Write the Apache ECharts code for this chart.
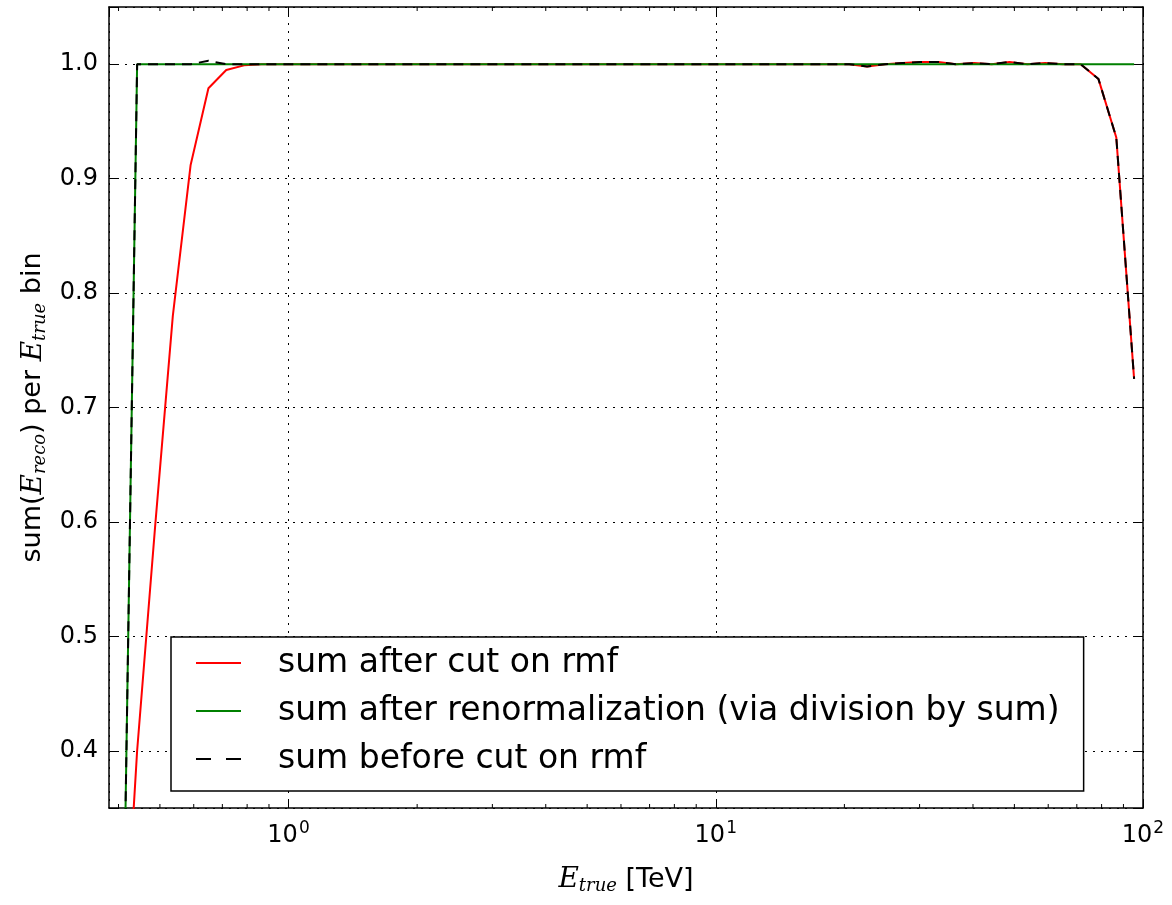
<!DOCTYPE html>
<html><head><meta charset="utf-8">
<script src="https://cdn.jsdelivr.net/npm/echarts@6/dist/echarts.min.js"></script>
<style>html,body{margin:0;padding:0;background:#fff}#c{width:1172px;height:905px}</style>
</head><body><div id="c"></div>
<script>
// Bin centres of E_true [TeV]
const energies = [0.3652, 0.4017, 0.4422, 0.4870, 0.5360, 0.5900, 0.6494, 0.7149, 0.7868, 0.8660,
  0.9532, 1.0492, 1.1548, 1.2710, 1.3990, 1.5399, 1.6950, 1.8656, 2.0535, 2.2603,
  2.4879, 2.7384, 3.0142, 3.3177, 3.6517, 4.0195, 4.4242, 4.8697, 5.3601, 5.8999,
  6.4938, 7.1477, 7.8674, 8.6596, 9.5316, 10.492, 11.548, 12.710, 13.990, 15.399,
  16.950, 18.656, 20.535, 22.603, 24.879, 27.384, 30.142, 33.177, 36.517, 40.195,
  44.242, 48.697, 53.601, 58.999, 64.938, 71.477, 78.674, 86.596, 95.316];
const sumAfterCut = [0, 0.14, 0.40, 0.595, 0.78, 0.912, 0.979, 0.995, 0.999, 1.0,
  1.0, 1.0, 1.0, 1.0, 1.0, 1.0, 1.0, 1.0, 1.0, 1.0,
  1.0, 1.0, 1.0, 1.0, 1.0, 1.0, 1.0, 1.0, 1.0, 1.0,
  1.0, 1.0, 1.0, 1.0, 1.0, 1.0, 1.0, 1.0, 1.0, 1.0,
  1.0, 1.0, 1.0, 0.998, 1.0, 1.001, 1.002, 1.002, 1.0, 1.001,
  1.0, 1.002, 1.0, 1.001, 1.0, 1.0, 0.987, 0.936, 0.725];
const sumRenorm = [0, 0, 1.0, 1.0, 1.0, 1.0, 1.0, 1.0, 1.0, 1.0,
  1.0, 1.0, 1.0, 1.0, 1.0, 1.0, 1.0, 1.0, 1.0, 1.0,
  1.0, 1.0, 1.0, 1.0, 1.0, 1.0, 1.0, 1.0, 1.0, 1.0,
  1.0, 1.0, 1.0, 1.0, 1.0, 1.0, 1.0, 1.0, 1.0, 1.0,
  1.0, 1.0, 1.0, 1.0, 1.0, 1.0, 1.0, 1.0, 1.0, 1.0,
  1.0, 1.0, 1.0, 1.0, 1.0, 1.0, 1.0, 1.0, 1.0];
const sumBeforeCut = [0, 0, 1.0, 1.0, 1.0, 1.0, 1.003, 1.0, 1.0, 1.0,
  1.0, 1.0, 1.0, 1.0, 1.0, 1.0, 1.0, 1.0, 1.0, 1.0,
  1.0, 1.0, 1.0, 1.0, 1.0, 1.0, 1.0, 1.0, 1.0, 1.0,
  1.0, 1.0, 1.0, 1.0, 1.0, 1.0, 1.0, 1.0, 1.0, 1.0,
  1.0, 1.0, 1.0, 0.998, 1.0, 1.001, 1.002, 1.002, 1.0, 1.001,
  1.0, 1.002, 1.0, 1.001, 1.0, 1.0, 0.987, 0.936, 0.725];
const seriesNames = ['sum after cut on rmf', 'sum after renormalization (via division by sum)', 'sum before cut on rmf'];
const minorTickValues = [0.4, 0.5, 0.6, 0.7, 0.8, 0.9, 2, 3, 4, 5, 6, 7, 8, 9, 20, 30, 40, 50, 60, 70, 80, 90];
const xMajorExponents = {1: '0', 10: '1', 100: '2'};
const yTickLabels = ['0.4', '0.5', '0.6', '0.7', '0.8', '0.9', '1.0'];

const xMin = 0.38, xMax = 100, yMin = 0.35, yMax = 1.05;
const FONT = 'DejaVu Sans';

const pairs = arr => energies.map((e, i) => [e, arr[i]]);

const chart = echarts.init(document.getElementById('c'), null, {renderer: 'canvas'});

const axisLineStyle = {show: true, lineStyle: {color: '#000', width: 1.5}};
const gridLine = {show: true, lineStyle: {color: '#000', width: 1, type: [2, 6]}};

const option = {
  backgroundColor: '#fff',
  animation: false,
  grid: {left: 109, right: 29, top: 7, bottom: 97, containLabel: false},
  legend: {
    data: [
      {name: seriesNames[0]},
      {name: seriesNames[1]},
      {name: seriesNames[2], lineStyle: {type: [15, 15]}}
    ],
    orient: 'vertical',
    left: 171, top: 637,
    itemWidth: 45, itemHeight: 14, itemGap: 10,
    padding: [7, 24, 13, 24],
    borderColor: '#000', borderWidth: 1.5, borderRadius: 0,
    backgroundColor: '#fff',
    itemStyle: {opacity: 0},
    textStyle: {fontFamily: FONT, fontSize: 33, color: '#000', lineHeight: 38, padding: [0, 0, 0, 32]}
  },
  xAxis: [{
    type: 'log', logBase: 10, min: xMin, max: xMax, position: 'bottom',
    axisLine: axisLineStyle,
    axisTick: {show: true, inside: true, length: 8, lineStyle: {color: '#000', width: 1}},
    splitLine: gridLine,
    axisLabel: {
      margin: 13, showMinLabel: false,
      formatter: v => xMajorExponents[Math.round(v)] !== undefined && Math.abs(v - Math.round(v)) < 1e-6 ? '{b|10}{s|' + xMajorExponents[Math.round(v)] + '}' : '',
      rich: {
        b: {fontFamily: FONT, fontSize: 24, color: '#000', lineHeight: 30},
        s: {fontFamily: FONT, fontSize: 17, color: '#000', lineHeight: 30, padding: [0, 0, 14, 1]}
      }
    },
    name: '{e|E}{sub|true}{t| [TeV]}',
    nameLocation: 'middle', nameGap: 56,
    nameTextStyle: {
      rich: {
        e: {fontFamily: 'DejaVu Serif', fontStyle: 'italic', fontSize: 28, color: '#000'},
        sub: {fontFamily: 'DejaVu Serif', fontStyle: 'italic', fontSize: 18, color: '#000', padding: [13, 0, 0, 0]},
        t: {fontFamily: FONT, fontSize: 27, color: '#000'}
      }
    }
  }, {
    type: 'log', logBase: 10, min: xMin, max: xMax, position: 'top',
    axisLine: axisLineStyle,
    axisTick: {show: true, inside: true, length: 8, lineStyle: {color: '#000', width: 1}},
    axisLabel: {show: false},
    splitLine: {show: false}
  }],
  yAxis: [{
    type: 'value', min: yMin, max: yMax, splitNumber: 7, position: 'left',
    axisLine: axisLineStyle,
    axisTick: {show: true, inside: true, length: 8, lineStyle: {color: '#000', width: 1}},
    splitLine: gridLine,
    axisLabel: {
      margin: 11, fontFamily: FONT, fontSize: 24, color: '#000',
      formatter: v => {
        const s = v.toFixed(1);
        return (Math.abs(v * 10 - Math.round(v * 10)) < 1e-6 && yTickLabels.indexOf(s) >= 0) ? s : '';
      }
    },
    name: '{t|sum(}{e|E}{sub|reco}{t|) per }{e|E}{sub|true}{t| bin}',
    nameLocation: 'middle', nameGap: 60, nameRotate: 90,
    nameTextStyle: {
      rich: {
        t: {fontFamily: FONT, fontSize: 27, color: '#000'},
        e: {fontFamily: 'DejaVu Serif', fontStyle: 'italic', fontSize: 28, color: '#000'},
        sub: {fontFamily: 'DejaVu Serif', fontStyle: 'italic', fontSize: 18, color: '#000', padding: [13, 0, 0, 0]}
      }
    }
  }, {
    type: 'value', min: yMin, max: yMax, splitNumber: 7, position: 'right',
    axisLine: axisLineStyle,
    axisTick: {show: true, inside: true, length: 8, lineStyle: {color: '#000', width: 1}},
    axisLabel: {show: false},
    splitLine: {show: false}
  }],
  series: [
    {name: seriesNames[0], type: 'line', data: pairs(sumAfterCut), showSymbol: false, symbol: 'none',
     lineStyle: {color: '#ff0000', width: 2}, itemStyle: {color: '#ff0000'}, clip: true, z: 3},
    {name: seriesNames[1], type: 'line', data: pairs(sumRenorm), showSymbol: false, symbol: 'none',
     lineStyle: {color: '#008000', width: 2}, itemStyle: {color: '#008000'}, clip: true, z: 4},
    {name: seriesNames[2], type: 'line', data: pairs(sumBeforeCut), showSymbol: false, symbol: 'none',
     lineStyle: {color: '#000', width: 2, type: [10, 7]}, itemStyle: {color: '#000'}, clip: true, z: 5},
    {name: 'minorTicks', type: 'custom', silent: true, clip: false, z: 6,
     data: minorTickValues.map(v => [v, yMin]),
     encode: {x: 0, y: 1},
     renderItem: (params, api) => {
       const v = api.value(0);
       const b = api.coord([v, yMin]);
       const t = api.coord([v, yMax]);
       return {type: 'group', children: [
         {type: 'line', shape: {x1: b[0], y1: b[1], x2: b[0], y2: b[1] - 4}, style: {stroke: '#000', lineWidth: 1}},
         {type: 'line', shape: {x1: t[0], y1: t[1], x2: t[0], y2: t[1] + 4}, style: {stroke: '#000', lineWidth: 1}}
       ]};
     }}
  ]
};
chart.setOption(option);
</script>
</body></html>
